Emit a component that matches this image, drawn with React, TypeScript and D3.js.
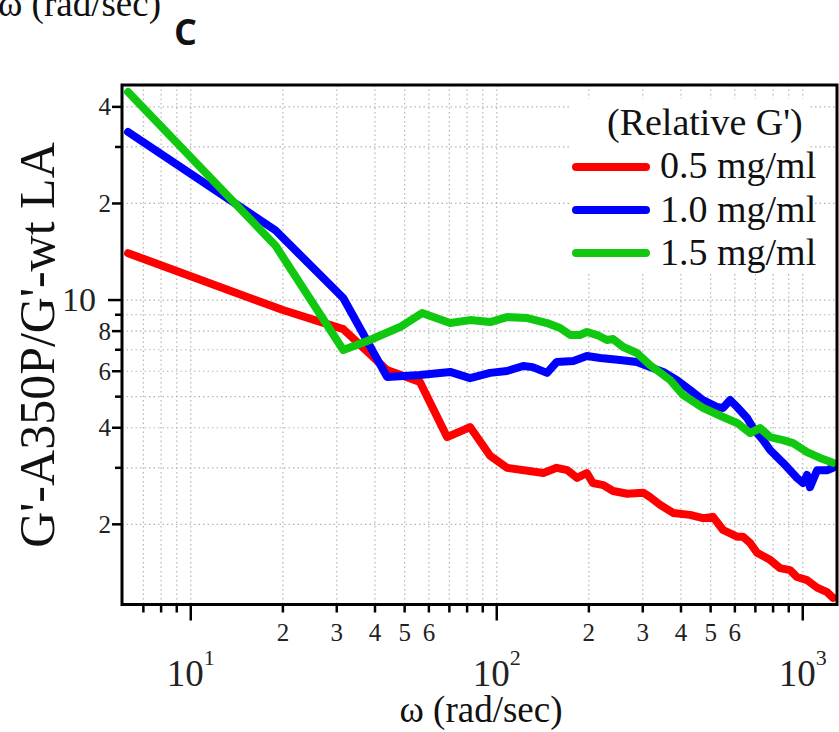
import React from 'react';
import * as d3 from 'd3';

// relative G' (A350P / wt LA) vs angular frequency, three concentrations
const omegaRed = [6.24, 20.0, 31.5, 43.8, 56.1, 68.8, 81.8, 95.1, 108, 142, 157, 170, 183, 197, 206, 223, 240, 267, 301, 317, 342, 377, 428, 472, 509, 549, 610, 638, 673, 709, 782, 843, 909, 958, 1033, 1114, 1201, 1256];
const relRed = [14.0, 9.31, 8.12, 6.05, 5.55, 3.74, 4.02, 3.27, 3.0, 2.89, 3.0, 2.95, 2.79, 2.89, 2.69, 2.65, 2.54, 2.49, 2.51, 2.43, 2.3, 2.17, 2.14, 2.09, 2.11, 1.92, 1.83, 1.83, 1.75, 1.63, 1.55, 1.46, 1.44, 1.37, 1.34, 1.27, 1.23, 1.18];

const omegaBlue = [6.24, 18.9, 31.5, 43.8, 56.1, 70.4, 81.8, 95.1, 108, 122, 131, 146, 157, 178, 197, 218, 253, 287, 317, 350, 388, 428, 472, 525, 549, 579, 610, 658, 688, 742, 782, 862, 958, 1002, 1033, 1056, 1114, 1201, 1256];
const relBlue = [33.4, 16.5, 10.15, 5.76, 5.84, 5.97, 5.71, 5.93, 6.01, 6.23, 6.18, 5.93, 6.41, 6.46, 6.69, 6.6, 6.5, 6.41, 6.18, 5.97, 5.63, 5.25, 4.88, 4.64, 4.61, 4.88, 4.64, 4.29, 3.99, 3.66, 3.41, 3.11, 2.79, 2.69, 2.85, 2.61, 2.95, 2.95, 3.0];

const omegaGreen = [6.24, 18.9, 31.5, 38.5, 48.3, 57.0, 70.4, 81.8, 95.1, 108, 126, 146, 161, 174, 187, 197, 213, 229, 240, 259, 287, 317, 369, 406, 472, 549, 610, 673, 725, 782, 862, 930, 1033, 1139, 1256];
const relGreen = [44.5, 14.8, 6.99, 7.51, 8.24, 9.11, 8.48, 8.66, 8.54, 8.85, 8.79, 8.48, 8.18, 7.78, 7.78, 7.95, 7.78, 7.51, 7.56, 7.14, 6.84, 6.27, 5.63, 5.06, 4.61, 4.32, 4.14, 3.85, 3.99, 3.74, 3.66, 3.58, 3.36, 3.22, 3.11];

const seriesLabels = ['0.5 mg/ml', '1.0 mg/ml', '1.5 mg/ml'];
const seriesColors = ['#ff0000', '#0000ff', '#11c811'];

const xMinorLabels = [2, 3, 4, 5, 6];
const xDecades = [1, 2, 3];
const yTickValues = [2, 3, 4, 5, 6, 7, 8, 9, 10, 20, 30, 40];
const yTickLabels: Record<number, string> = { 2: '2', 4: '4', 6: '6', 8: '8', 10: '10', 20: '2', 40: '4' };

const serif = 'Liberation Serif, Times New Roman, serif';

export default function App() {
  const width = 839;
  const height = 732;
  const left = 122, right = 837, top = 85, bottom = 604.5;

  const x = d3.scaleLog().domain([5.96, 1294]).range([left, right]);
  const y = d3.scaleLog().domain([1.125, 46.8]).range([bottom, top]);

  const xTicks: number[] = [];
  [1, 10, 100, 1000].forEach(d => {
    for (let m = 1; m <= 9; m++) {
      const v = d * m;
      if (v >= 6.5 && v <= 1290) xTicks.push(v);
    }
  });

  const line = d3.line<[number, number]>().x(d => x(d[0])).y(d => y(d[1]));
  const series = [
    d3.zip(omegaRed, relRed),
    d3.zip(omegaBlue, relBlue),
    d3.zip(omegaGreen, relGreen),
  ] as [number, number][][];

  return (
    <svg width={width} height={height} style={{ position: 'absolute', left: 0, top: 0, background: '#fff' }}>
      {/* panel header, cut off at the top like the source figure */}
      <text x={-2} y={16} fontFamily={serif} fontSize={37} fill="#111">ω (rad/sec)</text>
      <text x={174} y={45} fontFamily="Open Sans, Liberation Sans, sans-serif" fontWeight="bold" fontSize={36} fill="#111">C</text>

      {/* grid */}
      <g stroke="#b5b5b5" strokeWidth={1.2} strokeDasharray="1.5,3">
        {xTicks.map(v => (
          <line key={'gx' + v} x1={x(v)} x2={x(v)} y1={top} y2={bottom} />
        ))}
        {yTickValues.map(v => (
          <line key={'gy' + v} x1={left} x2={right} y1={y(v)} y2={y(v)} />
        ))}
      </g>

      {/* legend box */}
      <rect x={572} y={99} width={236} height={174} fill="#fff" />

      {/* curves */}
      {series.map((s, i) => (
        <path key={i} d={line(s) || ''} fill="none" stroke={seriesColors[i]} strokeWidth={8}
          strokeLinejoin="round" strokeLinecap="round" />
      ))}

      {/* frame */}
      <rect x={left} y={top} width={right - left} height={bottom - top} fill="none" stroke="#000" strokeWidth={3} />

      {/* x ticks */}
      <g stroke="#000" strokeWidth={2.5}>
        {xTicks.map(v => {
          const major = [10, 100, 1000].includes(v);
          return <line key={'tx' + v} x1={x(v)} x2={x(v)} y1={bottom} y2={bottom + (major ? 16 : 8)} />;
        })}
      </g>
      {[10, 100].map(d =>
        xMinorLabels.map(m => (
          <text key={'lx' + d * m} x={x(d * m)} y={641} textAnchor="middle" fontFamily={serif} fontSize={25} fill="#222">{m}</text>
        ))
      )}
      {xDecades.map(e => (
        <text key={'dx' + e} x={x(Math.pow(10, e))} y={686} textAnchor="middle" fontFamily={serif} fontSize={37} fill="#222">
          10<tspan dy={-21} fontSize={22}>{e}</tspan>
        </text>
      ))}
      <text x={481} y={722} textAnchor="middle" fontFamily={serif} fontSize={37} fill="#111">ω (rad/sec)</text>

      {/* y ticks */}
      <g stroke="#000" strokeWidth={2.5}>
        {yTickValues.map(v => {
          const len = v === 10 ? 14 : yTickLabels[v] ? 10 : 7;
          return <line key={'ty' + v} x1={left - len} x2={left} y1={y(v)} y2={y(v)} />;
        })}
      </g>
      {yTickValues.filter(v => yTickLabels[v]).map(v => (
        v === 10
          ? <text key={'ly' + v} x={96} y={y(v) + 11} textAnchor="end" fontFamily={serif} fontSize={34} fill="#222">{yTickLabels[v]}</text>
          : <text key={'ly' + v} x={111} y={y(v) + 8.5} textAnchor="end" fontFamily={serif} fontSize={25} fill="#222">{yTickLabels[v]}</text>
      ))}
      <text transform={`translate(54, 345) rotate(-90)`} textAnchor="middle" fontFamily={serif} fontSize={50} fill="#111">G'-A350P/G'-wt LA</text>

      {/* legend */}
      <text x={607} y={135} fontFamily={serif} fontSize={38} fill="#111">(Relative G')</text>
      {seriesLabels.map((lab, i) => (
        <g key={lab}>
          <line x1={576} x2={646} y1={167 + i * 43} y2={167 + i * 43} stroke={seriesColors[i]} strokeWidth={8} strokeLinecap="round" />
          <text x={660} y={178 + i * 43.5} fontFamily={serif} fontSize={38} fill="#111">{lab}</text>
        </g>
      ))}
    </svg>
  );
}
